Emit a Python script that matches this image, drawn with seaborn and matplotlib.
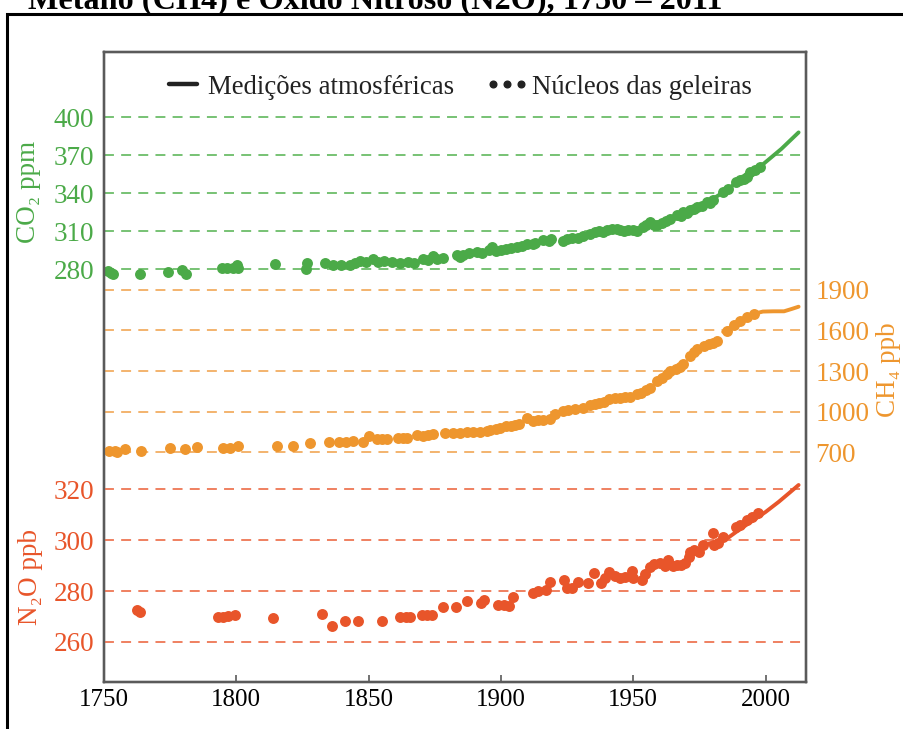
import numpy as np
import pandas as pd
import seaborn as sns
import matplotlib.pyplot as plt
from matplotlib.lines import Line2D
from matplotlib.patches import Rectangle

# ---------------- data ----------------
co2_core_years = [1751.5, 1752.5, 1753.5, 1763.6, 1774.2, 1779.5, 1781, 1794.6, 1796.5, 1798.8,
                  1800.3, 1800.5, 1814.6, 1826.2, 1826.7, 1833.5, 1836.5, 1839.5, 1843, 1845,
                  1846.7, 1849, 1851.7, 1853.5, 1856, 1859, 1862, 1865, 1867, 1870.6,
                  1872.5, 1874.4, 1876, 1878, 1883.4, 1884.5, 1885.7, 1888, 1891, 1893,
                  1895.5, 1896.7, 1898, 1900, 1902, 1904, 1906, 1908, 1910, 1912,
                  1913, 1916, 1918, 1919, 1923.5, 1925, 1927, 1929, 1931, 1933.8,
                  1935.5, 1937, 1938.5, 1940, 1942, 1943.9, 1945, 1946.5, 1948, 1950,
                  1951.5, 1953.7, 1955, 1956.4, 1958, 1959, 1961, 1962.5, 1964, 1966.5,
                  1968, 1969, 1970.5, 1971.5, 1973, 1974, 1976, 1978, 1979, 1980,
                  1984, 1986, 1989, 1990.5, 1992, 1993, 1994, 1996, 1998]
co2_core_vals = [278.7, 277, 276, 275.8, 277.4, 279.2, 276.5, 281, 281, 281.2,
                 283.5, 281, 284, 280.5, 284.5, 284.5, 283.2, 283, 283, 285,
                 286.3, 285.5, 288, 285.8, 286.5, 285.5, 285, 285.5, 285, 288,
                 287, 290.5, 288, 289, 290.8, 289.5, 291.2, 293, 293.6, 292.5,
                 294.8, 297.5, 294.5, 295.5, 296, 296.5, 297.8, 298.5, 300.2, 299.5,
                 300.8, 303.3, 302.5, 304, 302.5, 303.5, 304.8, 305, 306.5, 308,
                 309, 310, 309.5, 311, 311.5, 312, 311, 310.5, 310.8, 311,
                 310.5, 313.2, 314.5, 317, 315, 314.6, 316.5, 318, 320, 322.5,
                 322, 325, 324.5, 326.5, 327.5, 329, 330, 333, 332, 334.3,
                 341, 343, 348.7, 350.5, 351.5, 352.7, 356.6, 358, 360.5]
co2_atm_years = [1958, 1962, 1966, 1970, 1974, 1978, 1982, 1986, 1990, 1994, 1998, 2002, 2006, 2010, 2012.5]
co2_atm_vals = [315, 318, 321, 325, 329, 333, 338, 343.5, 350, 356, 361, 368, 375, 383, 388]

ch4_core_years = [1752, 1754, 1755, 1758, 1764, 1775, 1780.6, 1785, 1795, 1797.6,
                  1800.7, 1815.4, 1821.4, 1828, 1835, 1839, 1841.5, 1844, 1848, 1850,
                  1853, 1855, 1857, 1861, 1863, 1864.6, 1868.4, 1870.7, 1872.5, 1874.5,
                  1879, 1882, 1884.5, 1887, 1889.5, 1892, 1894.7, 1896, 1898, 1899.7,
                  1902, 1904, 1905.5, 1907, 1910, 1912, 1914, 1916, 1918.5, 1920.4,
                  1923.5, 1925.5, 1928, 1931, 1933.8, 1935.5, 1937, 1938.8, 1941, 1943,
                  1945, 1947, 1948.8, 1951.4, 1953, 1955, 1956.4, 1959, 1961, 1962.8,
                  1964, 1966, 1967.5, 1969, 1971.6, 1973, 1974, 1976.6, 1978.5, 1980,
                  1981.7, 1985.5, 1988, 1990.5, 1993, 1995.5]
ch4_core_vals = [705, 707, 704, 720, 712, 733, 725, 737, 728, 730,
                 742, 747, 747, 766, 773, 778, 776, 780, 778, 822,
                 798, 795, 800, 805, 803, 808, 827, 822, 830, 834,
                 840, 845, 840, 850, 852, 848, 857, 865, 872, 882,
                 890, 896, 902, 907, 956, 932, 935, 940, 944, 981,
                 1005, 1012, 1020, 1030, 1047, 1055, 1062, 1072, 1091, 1098,
                 1100, 1105, 1111, 1128, 1140, 1160, 1178, 1227, 1250, 1276,
                 1300, 1315, 1330, 1350, 1412, 1440, 1461, 1485, 1500, 1510,
                 1522, 1597, 1640, 1671, 1700, 1720]
ch4_atm_years = [1984, 1988, 1992, 1996, 1999, 2003, 2007, 2010, 2012.5]
ch4_atm_vals = [1590, 1640, 1690, 1725, 1740, 1742, 1742, 1760, 1776]

n2o_core_years = [1762.5, 1763.5, 1793, 1795, 1797, 1799.5, 1814, 1832.5, 1836, 1841,
                  1846, 1855, 1862, 1864, 1865.5, 1870, 1872, 1874, 1878, 1883,
                  1887, 1892.5, 1893.5, 1899, 1901, 1903, 1904.5, 1912, 1914, 1917,
                  1918.5, 1924, 1925, 1927, 1929, 1933, 1935, 1938, 1939.5, 1941,
                  1943, 1945, 1947, 1949.5, 1950, 1953.4, 1954.5, 1956.4, 1958, 1960,
                  1962, 1963, 1965, 1966.5, 1968, 1969.7, 1971, 1971.6, 1973, 1975,
                  1976.5, 1980, 1980.4, 1982, 1984, 1989, 1990.5, 1993, 1995, 1997]
n2o_core_vals = [272.5, 271.6, 270, 270, 270.3, 270.6, 269.4, 271, 266.3, 268.4,
                 268.4, 268.4, 270, 269.8, 269.8, 270.6, 270.6, 270.6, 273.8, 273.8,
                 276, 275.4, 276.3, 274.6, 274.4, 274.3, 277.8, 279.3, 280.2, 280.4,
                 283.5, 284.3, 281.2, 281.3, 283.6, 283, 287, 283.3, 285, 287.6,
                 286, 285, 285.5, 288, 285, 284.3, 286.5, 289.5, 290.5, 291,
                 290, 292, 289.8, 290.2, 290.4, 291, 293.5, 295.4, 296, 295.4,
                 298, 302.7, 298, 299, 301.3, 305, 305.8, 307.8, 309, 310.6]
n2o_atm_years = [1978, 1982, 1986, 1990, 1995, 2000, 2005, 2009, 2012.5]
n2o_atm_vals = [298.5, 299.5, 301, 304, 307.5, 311, 315, 318.5, 321.6]

co2_ticks = [280, 310, 340, 370, 400]
ch4_ticks = [700, 1000, 1300, 1600, 1900]
n2o_ticks = [260, 280, 300, 320]
year_ticks = [1750, 1800, 1850, 1900, 1950, 2000]

legend_labels = ["Medições atmosféricas", "Núcleos das geleiras"]
title_text = "Metano (CH4) e Óxido Nitroso (N2O), 1750 – 2011"

# ---------------- styling ----------------
sns.set_theme(style="white")
plt.rcParams['font.family'] = ['Liberation Serif', 'DejaVu Serif']

C_CO2, G_CO2 = "#4BAA48", "#6CBD69"
C_CH4, G_CH4 = "#EE962E", "#F2AE62"
C_N2O, G_N2O = "#E8552A", "#EE7654"
SPINE = "#5a5a5a"

W, H = 904, 729
fig = plt.figure(figsize=(W / 100, H / 100), dpi=100)
fig.patch.set_facecolor("white")
L, R, T, B = 104, 806, 52, 682
ax = fig.add_axes([L / W, 1 - B / H, (R - L) / W, (B - T) / H])
ax_ch4 = ax.twinx()
ax_n2o = ax.twinx()

co2_core = pd.DataFrame({"ano": co2_core_years, "v": co2_core_vals})
co2_atm = pd.DataFrame({"ano": co2_atm_years, "v": co2_atm_vals})
ch4_core = pd.DataFrame({"ano": ch4_core_years, "v": ch4_core_vals})
ch4_atm = pd.DataFrame({"ano": ch4_atm_years, "v": ch4_atm_vals})
n2o_core = pd.DataFrame({"ano": n2o_core_years, "v": n2o_core_vals})
n2o_atm = pd.DataFrame({"ano": n2o_atm_years, "v": n2o_atm_vals})

dot_kw = dict(s=62, linewidth=0, legend=False, zorder=3)
line_kw = dict(linewidth=2.8, legend=False, zorder=4, estimator=None)

sns.scatterplot(data=co2_core, x="ano", y="v", color=C_CO2, ax=ax, **dot_kw)
sns.lineplot(data=co2_atm, x="ano", y="v", color=C_CO2, ax=ax, **line_kw)
sns.scatterplot(data=ch4_core, x="ano", y="v", color=C_CH4, ax=ax_ch4, **dot_kw)
sns.lineplot(data=ch4_atm, x="ano", y="v", color=C_CH4, ax=ax_ch4, **line_kw)
sns.scatterplot(data=n2o_core, x="ano", y="v", color=C_N2O, ax=ax_n2o, **dot_kw)
sns.lineplot(data=n2o_atm, x="ano", y="v", color=C_N2O, ax=ax_n2o, **line_kw)

# y ranges chosen so each gas occupies its own band of the shared frame
ax.set_ylim(-46, 451.5)
ax_ch4.set_ylim(-1000, 3660)
ax_n2o.set_ylim(244.3, 491.5)
ax.set_xlim(1750, 2015.3)

dash = (0, (5.5, 4))
for a, ticks, tc, gc, side in [(ax, co2_ticks, C_CO2, G_CO2, "left"),
                               (ax_ch4, ch4_ticks, C_CH4, G_CH4, "right"),
                               (ax_n2o, n2o_ticks, C_N2O, G_N2O, "left")]:
    a.set_yticks(ticks)
    a.set_yticklabels([str(t) for t in ticks])
    a.tick_params(axis="y", length=0, labelsize=19.5, colors=tc, pad=7,
                  left=(side == "left"), right=(side == "right"),
                  labelleft=(side == "left"), labelright=(side == "right"))
    a.grid(True, axis="y", color=gc, linestyle=dash, linewidth=1.3)
    a.grid(False, axis="x")
    a.set_xlabel("")
    a.set_ylabel("")
    for sp in a.spines.values():
        sp.set_color(SPINE)
        sp.set_linewidth(1.6)

ax_n2o.yaxis.set_ticks_position("left")
ax_n2o.yaxis.set_label_position("left")

ax.set_xticks(year_ticks)
ax.set_xticklabels([str(y) for y in year_ticks])
ax.tick_params(axis="x", direction="in", length=5, width=1.2, color=SPINE,
               labelsize=18, labelcolor="black", pad=5, bottom=True)

# axis titles
ax.set_ylabel("CO₂ ppm", fontsize=19.5, color=C_CO2, va="center", ha="center")
ax.yaxis.set_label_coords(-0.107, 0.778)
ax_n2o.set_ylabel("N₂O ppb", fontsize=19.5, color=C_N2O, va="center", ha="center")
ax_n2o.yaxis.set_label_coords(-0.105, 0.167)
ax_ch4.set_ylabel("CH₄ ppb", fontsize=19.5, color=C_CH4, va="center", ha="center",
                  rotation=90)
ax_ch4.yaxis.set_label_coords(1.117, 0.495)

# legend
handles = [Line2D([], [], color="#222222", linewidth=3.2),
           Line2D([], [], color="#222222", marker="o", linestyle="none", markersize=4.8)]
leg = ax_n2o.legend(handles, legend_labels, loc="center", bbox_to_anchor=(0.502, 0.944),
                    ncol=2, frameon=False, fontsize=19.3, numpoints=3,
                    handlelength=1.65, handletextpad=0.12, columnspacing=1.15)
for t in leg.get_texts():
    t.set_color("#222222")

# outer frame and cropped title of the source figure
fig.add_artist(Rectangle((7 / W, -0.2), 1.2, 1.2 - 14 / H, transform=fig.transFigure,
                         fill=False, edgecolor="black", linewidth=2.2, clip_on=False))
fig.text(28 / W, 1 - 9.5 / H, title_text, fontsize=23.2, fontweight="bold",
         color="black", va="baseline", ha="left")

fig.savefig("out.png", dpi=100)
